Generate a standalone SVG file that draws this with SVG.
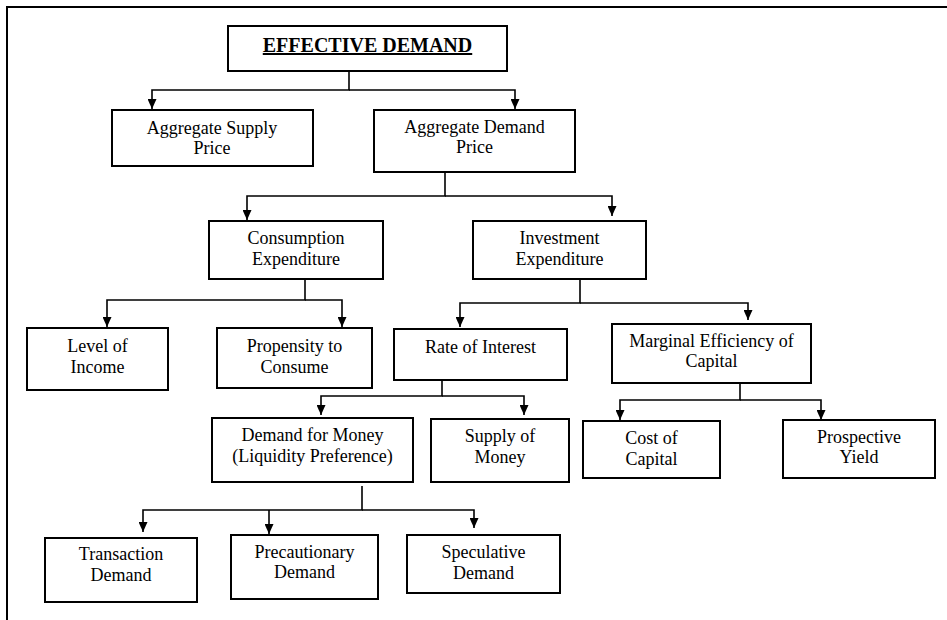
<svg xmlns="http://www.w3.org/2000/svg" width="947" height="620" viewBox="0 0 947 620">
<style>
  .box { fill: #fff; stroke: #000; stroke-width: 2; }
  .lbl { font-family: "Liberation Serif", "Times New Roman", serif; font-size: 18px; fill: #000; text-anchor: middle; }
  .title { font-family: "Liberation Serif", "Times New Roman", serif; font-size: 20px; font-weight: bold; fill: #000; text-anchor: middle; text-decoration: underline; }
  .conn path { fill: none; stroke: #000; stroke-width: 1.6; }
  .frame { fill: none; stroke: #000; stroke-width: 2; }
</style>
<defs>
  <marker id="arr" viewBox="0 0 10 9" refX="10" refY="4.5" markerWidth="10" markerHeight="9" markerUnits="userSpaceOnUse" orient="auto">
    <path d="M0,0 L10,4.5 L0,9 z" fill="#000"/>
  </marker>
</defs>
<rect width="947" height="620" fill="#fff"/>
<path class="frame" d="M7,620 V7 H947"/>

<g class="conn" id="connectors">
  <path d="M349,71 V90 H152 V109" marker-end="url(#arr)"/>
  <path d="M349,90 H515 V109" marker-end="url(#arr)"/>
  <path d="M445,172 V196 H247 V220" marker-end="url(#arr)"/>
  <path d="M445,196 H612 V216" marker-end="url(#arr)"/>
  <path d="M305,279 V300 H107 V327" marker-end="url(#arr)"/>
  <path d="M305,300 H342 V327" marker-end="url(#arr)"/>
  <path d="M580,279 V303 H460 V327" marker-end="url(#arr)"/>
  <path d="M580,303 H748 V320" marker-end="url(#arr)"/>
  <path d="M442,380 V396 H321 V415" marker-end="url(#arr)"/>
  <path d="M442,396 H524 V415" marker-end="url(#arr)"/>
  <path d="M740,383 V400 H620 V420" marker-end="url(#arr)"/>
  <path d="M740,400 H821 V420" marker-end="url(#arr)"/>
  <path d="M362,486 V510 H143 V532" marker-end="url(#arr)"/>
  <path d="M269,510 V534" marker-end="url(#arr)"/>
  <path d="M362,510 H474 V528" marker-end="url(#arr)"/>
</g>

<g id="effective-demand">
  <rect class="box" x="228" y="26" width="279" height="45"/>
  <text class="title" x="367.5" y="52">EFFECTIVE DEMAND</text>
</g>
<g id="aggregate-supply-price">
  <rect class="box" x="112" y="110" width="201" height="56"/>
  <text class="lbl" x="212" y="134">Aggregate Supply</text>
  <text class="lbl" x="212" y="154">Price</text>
</g>
<g id="aggregate-demand-price">
  <rect class="box" x="374" y="110" width="201" height="62"/>
  <text class="lbl" x="474.5" y="133">Aggregate Demand</text>
  <text class="lbl" x="474.5" y="153">Price</text>
</g>
<g id="consumption-expenditure">
  <rect class="box" x="209" y="221" width="174" height="58"/>
  <text class="lbl" x="296" y="244">Consumption</text>
  <text class="lbl" x="296" y="265">Expenditure</text>
</g>
<g id="investment-expenditure">
  <rect class="box" x="473" y="221" width="173" height="58"/>
  <text class="lbl" x="559.5" y="244">Investment</text>
  <text class="lbl" x="559.5" y="265">Expenditure</text>
</g>
<g id="level-of-income">
  <rect class="box" x="27" y="328" width="141" height="62"/>
  <text class="lbl" x="97.5" y="352">Level of</text>
  <text class="lbl" x="97.5" y="373">Income</text>
</g>
<g id="propensity-to-consume">
  <rect class="box" x="217" y="328" width="155" height="60"/>
  <text class="lbl" x="294.5" y="352">Propensity to</text>
  <text class="lbl" x="294.5" y="373">Consume</text>
</g>
<g id="rate-of-interest">
  <rect class="box" x="394" y="329" width="173" height="51"/>
  <text class="lbl" x="480.5" y="353">Rate of Interest</text>
</g>
<g id="marginal-efficiency-of-capital">
  <rect class="box" x="612" y="324" width="199" height="59"/>
  <text class="lbl" x="711.5" y="347">Marginal Efficiency of</text>
  <text class="lbl" x="711.5" y="367">Capital</text>
</g>
<g id="demand-for-money">
  <rect class="box" x="212" y="418" width="201" height="64"/>
  <text class="lbl" x="312.5" y="441">Demand for Money</text>
  <text class="lbl" x="312.5" y="462">(Liquidity Preference)</text>
</g>
<g id="supply-of-money">
  <rect class="box" x="431" y="419" width="138" height="63"/>
  <text class="lbl" x="500" y="442">Supply of</text>
  <text class="lbl" x="500" y="463">Money</text>
</g>
<g id="cost-of-capital">
  <rect class="box" x="583" y="421" width="137" height="57"/>
  <text class="lbl" x="651.5" y="444">Cost of</text>
  <text class="lbl" x="651.5" y="465">Capital</text>
</g>
<g id="prospective-yield">
  <rect class="box" x="783" y="420" width="152" height="58"/>
  <text class="lbl" x="859" y="443">Prospective</text>
  <text class="lbl" x="859" y="463">Yield</text>
</g>
<g id="transaction-demand">
  <rect class="box" x="45" y="538" width="152" height="64"/>
  <text class="lbl" x="121" y="560">Transaction</text>
  <text class="lbl" x="121" y="581">Demand</text>
</g>
<g id="precautionary-demand">
  <rect class="box" x="231" y="535" width="147" height="64"/>
  <text class="lbl" x="304.5" y="558">Precautionary</text>
  <text class="lbl" x="304.5" y="578">Demand</text>
</g>
<g id="speculative-demand">
  <rect class="box" x="407" y="535" width="153" height="58"/>
  <text class="lbl" x="483.5" y="558">Speculative</text>
  <text class="lbl" x="483.5" y="579">Demand</text>
</g>
</svg>
